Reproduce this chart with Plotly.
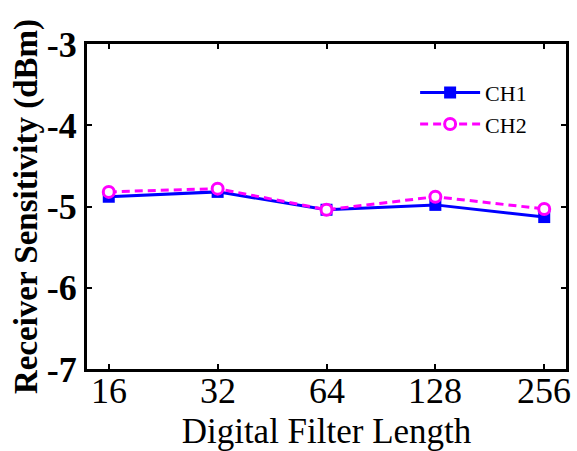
import plotly.graph_objects as go

categories = ["16", "32", "64", "128", "256"]
ch1 = [-4.88, -4.82, -5.04, -4.98, -5.13]
ch2 = [-4.82, -4.78, -5.04, -4.88, -5.03]
y_ticks = [-7, -6, -5, -4, -3]
y_ticklabels = ["-7", "-6", "-5", "-4", "-3"]

FONT = "Liberation Serif, Times New Roman, serif"

fig = go.Figure()
fig.add_trace(go.Scatter(
    x=categories, y=ch1, name="CH1", mode="lines+markers",
    line=dict(color="#0000ff", width=3),
    marker=dict(symbol="square", size=12, color="#0000ff"),
))
fig.add_trace(go.Scatter(
    x=categories, y=ch2, name="CH2", mode="lines+markers",
    line=dict(color="#ff00ff", width=3, dash="8px,5px"),
    marker=dict(symbol="circle", size=11, color="white",
                line=dict(color="#ff00ff", width=3)),
))

axis_common = dict(
    showline=True, linecolor="black", linewidth=3, mirror="ticks",
    ticks="inside", ticklen=5, tickwidth=2, tickcolor="black",
    showgrid=False, zeroline=False, automargin=False,
)

# x tick labels drawn as text annotations at the category positions
for i, cat in enumerate(categories):
    fig.add_annotation(
        x=i, xref="x", y=0, yref="paper", yanchor="top", yshift=0,
        text=cat, showarrow=False, font=dict(size=36, family=FONT, color="black"),
    )

fig.update_layout(
    width=577, height=451,
    margin=dict(l=87, r=11, t=44, b=82),
    paper_bgcolor="white", plot_bgcolor="white",
    font=dict(family=FONT, color="black"),
    xaxis=dict(
        type="category", range=[-0.2, 4.2], showticklabels=False,
        title=dict(text="Digital Filter Length", font=dict(size=35, family=FONT), standoff=51),
        **axis_common,
    ),
    yaxis=dict(
        range=[-7, -3], tickvals=y_ticks, ticktext=y_ticklabels,
        tickfont=dict(size=36, family=FONT, weight="bold"),
        title=dict(text="<b>Receiver Sensitivity (dBm)</b>", font=dict(size=33, family=FONT), standoff=0),
        **axis_common,
    ),
    legend=dict(
        x=0.685, y=0.915, xanchor="left", yanchor="top",
        bgcolor="rgba(0,0,0,0)", font=dict(size=22, family=FONT),
        tracegroupgap=0, itemwidth=60,
    ),
    showlegend=True,
)

fig.write_html("out.html", config={"displayModeBar": False},
               post_script="document.body.style.margin='0';")
